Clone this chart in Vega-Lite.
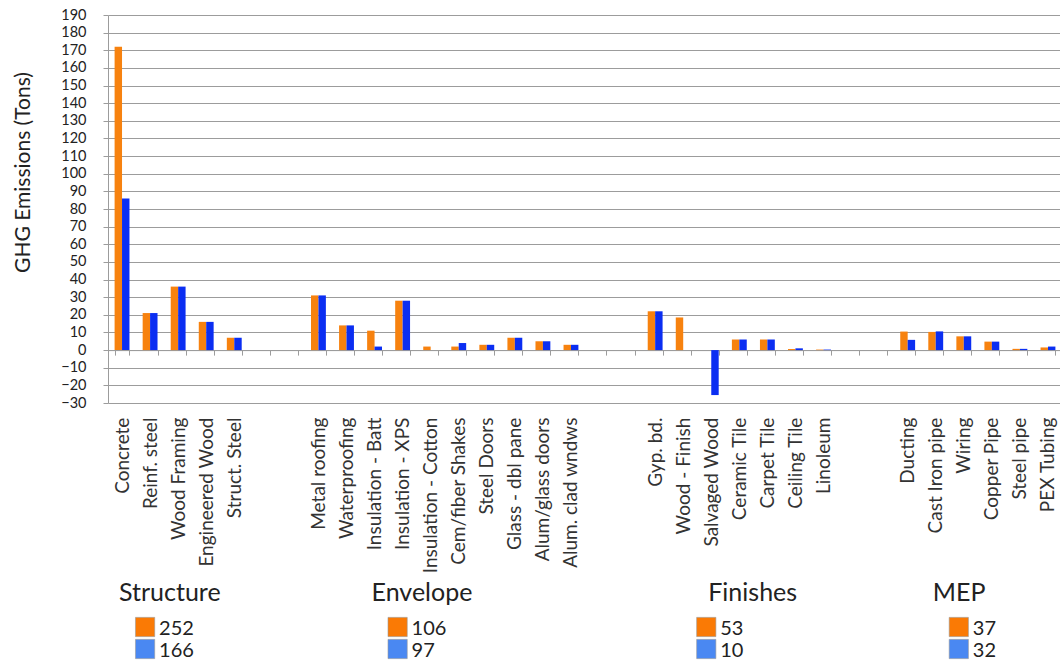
{
  "$schema": "https://vega.github.io/schema/vega-lite/v6.json",
  "padding": {"left": 12, "top": 7, "right": 0, "bottom": 0},
  "autosize": {"type": "pad"},
  "bounds": "flush",
  "spacing": 213,
  "config": {
    "font": "Lato",
    "view": {"stroke": null},
    "axis": {"labelFont": "Lato", "titleFont": "Lato"},
    "text": {"font": "Lato"}
  },
  "datasets": {
    "bars": [
      {"material": "Concrete", "scenario": "Scenario 1", "tons": 172},
      {"material": "Concrete", "scenario": "Scenario 2", "tons": 86},
      {"material": "Reinf. steel", "scenario": "Scenario 1", "tons": 21},
      {"material": "Reinf. steel", "scenario": "Scenario 2", "tons": 21},
      {"material": "Wood Framing", "scenario": "Scenario 1", "tons": 36},
      {"material": "Wood Framing", "scenario": "Scenario 2", "tons": 36},
      {"material": "Engineered Wood", "scenario": "Scenario 1", "tons": 16},
      {"material": "Engineered Wood", "scenario": "Scenario 2", "tons": 16},
      {"material": "Struct. Steel", "scenario": "Scenario 1", "tons": 7},
      {"material": "Struct. Steel", "scenario": "Scenario 2", "tons": 7},
      {"material": "Metal roofing", "scenario": "Scenario 1", "tons": 31},
      {"material": "Metal roofing", "scenario": "Scenario 2", "tons": 31},
      {"material": "Waterproofing", "scenario": "Scenario 1", "tons": 14},
      {"material": "Waterproofing", "scenario": "Scenario 2", "tons": 14},
      {"material": "Insulation - Batt", "scenario": "Scenario 1", "tons": 11},
      {"material": "Insulation - Batt", "scenario": "Scenario 2", "tons": 2},
      {"material": "Insulation - XPS", "scenario": "Scenario 1", "tons": 28},
      {"material": "Insulation - XPS", "scenario": "Scenario 2", "tons": 28},
      {"material": "Insulation - Cotton", "scenario": "Scenario 1", "tons": 2},
      {"material": "Insulation - Cotton", "scenario": "Scenario 2", "tons": 0},
      {"material": "Cem/fiber Shakes", "scenario": "Scenario 1", "tons": 2},
      {"material": "Cem/fiber Shakes", "scenario": "Scenario 2", "tons": 4},
      {"material": "Steel Doors", "scenario": "Scenario 1", "tons": 3},
      {"material": "Steel Doors", "scenario": "Scenario 2", "tons": 3},
      {"material": "Glass - dbl pane", "scenario": "Scenario 1", "tons": 7},
      {"material": "Glass - dbl pane", "scenario": "Scenario 2", "tons": 7},
      {"material": "Alum/glass doors", "scenario": "Scenario 1", "tons": 5},
      {"material": "Alum/glass doors", "scenario": "Scenario 2", "tons": 5},
      {"material": "Alum. clad wndws", "scenario": "Scenario 1", "tons": 3},
      {"material": "Alum. clad wndws", "scenario": "Scenario 2", "tons": 3},
      {"material": "Gyp. bd.", "scenario": "Scenario 1", "tons": 22},
      {"material": "Gyp. bd.", "scenario": "Scenario 2", "tons": 22},
      {"material": "Wood - Finish", "scenario": "Scenario 1", "tons": 18.5},
      {"material": "Wood - Finish", "scenario": "Scenario 2", "tons": 0},
      {"material": "Salvaged Wood", "scenario": "Scenario 1", "tons": 0},
      {"material": "Salvaged Wood", "scenario": "Scenario 2", "tons": -25.5},
      {"material": "Ceramic Tile", "scenario": "Scenario 1", "tons": 6},
      {"material": "Ceramic Tile", "scenario": "Scenario 2", "tons": 6},
      {"material": "Carpet Tile", "scenario": "Scenario 1", "tons": 6},
      {"material": "Carpet Tile", "scenario": "Scenario 2", "tons": 6},
      {"material": "Ceiling Tile", "scenario": "Scenario 1", "tons": 0.6},
      {"material": "Ceiling Tile", "scenario": "Scenario 2", "tons": 1},
      {"material": "Linoleum", "scenario": "Scenario 1", "tons": 0.3},
      {"material": "Linoleum", "scenario": "Scenario 2", "tons": 0.3},
      {"material": "Ducting", "scenario": "Scenario 1", "tons": 10.5},
      {"material": "Ducting", "scenario": "Scenario 2", "tons": 5.8},
      {"material": "Cast Iron pipe", "scenario": "Scenario 1", "tons": 10.3},
      {"material": "Cast Iron pipe", "scenario": "Scenario 2", "tons": 10.6},
      {"material": "Wiring", "scenario": "Scenario 1", "tons": 7.8},
      {"material": "Wiring", "scenario": "Scenario 2", "tons": 7.8},
      {"material": "Copper Pipe", "scenario": "Scenario 1", "tons": 4.8},
      {"material": "Copper Pipe", "scenario": "Scenario 2", "tons": 4.8},
      {"material": "Steel pipe", "scenario": "Scenario 1", "tons": 0.7},
      {"material": "Steel pipe", "scenario": "Scenario 2", "tons": 0.7},
      {"material": "PEX Tubing", "scenario": "Scenario 1", "tons": 1.5},
      {"material": "PEX Tubing", "scenario": "Scenario 2", "tons": 2}
    ],
    "totals": [
      {"group": "Structure", "scenario": "Scenario 1", "total": 252, "titleAt": "Concrete", "keyAt": "Reinf. steel"},
      {"group": "Structure", "scenario": "Scenario 2", "total": 166, "titleAt": "Concrete", "keyAt": "Reinf. steel"},
      {"group": "Envelope", "scenario": "Scenario 1", "total": 106, "titleAt": "Insulation - Batt", "keyAt": "Insulation - XPS"},
      {"group": "Envelope", "scenario": "Scenario 2", "total": 97, "titleAt": "Insulation - Batt", "keyAt": "Insulation - XPS"},
      {"group": "Finishes", "scenario": "Scenario 1", "total": 53, "titleAt": "Salvaged Wood", "keyAt": "Salvaged Wood"},
      {"group": "Finishes", "scenario": "Scenario 2", "total": 10, "titleAt": "Salvaged Wood", "keyAt": "Salvaged Wood"},
      {"group": "MEP", "scenario": "Scenario 1", "total": 37, "titleAt": "Cast Iron pipe", "keyAt": "Wiring"},
      {"group": "MEP", "scenario": "Scenario 2", "total": 32, "titleAt": "Cast Iron pipe", "keyAt": "Wiring"}
    ]
  },
  "resolve": {"scale": {"x": "independent", "y": "independent", "color": "independent"}},
  "vconcat": [
    {
      "width": 954,
      "height": 388,
      "data": {"name": "bars"},
      "mark": {"type": "bar"},
      "encoding": {
        "x": {
          "field": "material",
          "type": "nominal",
          "sort": null,
          "scale": {
            "type": "band",
            "paddingInner": 0.47,
            "paddingOuter": 0.235,
            "domain": ["Concrete", "Reinf. steel", "Wood Framing", "Engineered Wood", "Struct. Steel", "gap1", "gap2", "Metal roofing", "Waterproofing", "Insulation - Batt", "Insulation - XPS", "Insulation - Cotton", "Cem/fiber Shakes", "Steel Doors", "Glass - dbl pane", "Alum/glass doors", "Alum. clad wndws", "gap3", "gap4", "Gyp. bd.", "Wood - Finish", "Salvaged Wood", "Ceramic Tile", "Carpet Tile", "Ceiling Tile", "Linoleum", "gap5", "gap6", "Ducting", "Cast Iron pipe", "Wiring", "Copper Pipe", "Steel pipe", "PEX Tubing"]
          },
          "axis": {
            "orient": "bottom",
            "offset": -52.9,
            "title": null,
            "labelAngle": -90,
            "labelFontSize": 19,
            "labelColor": "#333333",
            "labelPadding": 62,
            "labelOverlap": false,
            "labelBound": false,
            "labelExpr": "indexof(datum.label, 'gap') === 0 ? '' : datum.label",
            "tickBand": "extent",
            "tickSize": 5,
            "tickColor": "#9c9c9c",
            "domainColor": "#9c9c9c",
            "grid": false
          }
        },
        "xOffset": {"field": "scenario", "type": "nominal", "sort": ["Scenario 1", "Scenario 2"], "scale": {"paddingInner": 0, "paddingOuter": 0}},
        "y": {
          "field": "tons",
          "type": "quantitative",
          "scale": {"domain": [-30, 190], "nice": false, "zero": false},
          "axis": {
            "values": [-30, -20, -10, 0, 10, 20, 30, 40, 50, 60, 70, 80, 90, 100, 110, 120, 130, 140, 150, 160, 170, 180, 190],
            "grid": true,
            "gridColor": "#9c9c9c",
            "gridWidth": 1,
            "domainColor": "#9c9c9c",
            "tickColor": "#9c9c9c",
            "tickSize": 5,
            "labelFontSize": 14.5,
            "labelColor": "#222222",
            "labelPadding": 17,
            "labelFlush": false,
            "labelOverlap": false,
            "title": "GHG Emissions (Tons)",
            "titleFontSize": 21,
            "titleFontWeight": "normal",
            "titleColor": "#222222",
            "titlePadding": 27.5,
            "titleY": 157
          }
        },
        "color": {
          "field": "scenario",
          "type": "nominal",
          "scale": {"domain": ["Scenario 1", "Scenario 2"], "range": ["#F7820F", "#0B2EF2"]},
          "legend": null
        }
      }
    },
    {
      "width": 954,
      "height": 44,
      "data": {"name": "totals"},
      "layer": [
        {
          "mark": {"type": "square", "size": 370, "filled": true, "opacity": 1, "xOffset": -5, "stroke": "#9a9a9a", "strokeWidth": 0.6},
          "encoding": {
            "x": {"field": "keyAt", "type": "nominal", "sort": null, "scale": {"type": "band", "paddingInner": 0.47, "paddingOuter": 0.235, "domain": ["Concrete", "Reinf. steel", "Wood Framing", "Engineered Wood", "Struct. Steel", "gap1", "gap2", "Metal roofing", "Waterproofing", "Insulation - Batt", "Insulation - XPS", "Insulation - Cotton", "Cem/fiber Shakes", "Steel Doors", "Glass - dbl pane", "Alum/glass doors", "Alum. clad wndws", "gap3", "gap4", "Gyp. bd.", "Wood - Finish", "Salvaged Wood", "Ceramic Tile", "Carpet Tile", "Ceiling Tile", "Linoleum", "gap5", "gap6", "Ducting", "Cast Iron pipe", "Wiring", "Copper Pipe", "Steel pipe", "PEX Tubing"]}, "axis": null},
            "y": {"field": "scenario", "type": "nominal", "scale": {"type": "band", "domain": ["Scenario 1", "Scenario 2"], "paddingInner": 0, "paddingOuter": 0}, "axis": null},
            "color": {"field": "scenario", "type": "nominal", "scale": {"domain": ["Scenario 1", "Scenario 2"], "range": ["#FA7A05", "#4A88F2"]}, "legend": null}
          }
        },
        {
          "mark": {"type": "text", "align": "left", "baseline": "middle", "dx": 9, "dy": 2, "fontSize": 20, "color": "#222222"},
          "encoding": {
            "x": {"field": "keyAt", "type": "nominal", "sort": null},
            "y": {"field": "scenario", "type": "nominal"},
            "text": {"field": "total", "type": "quantitative"}
          }
        },
        {
          "transform": [{"filter": "datum.scenario === 'Scenario 1'"}],
          "mark": {"type": "text", "align": "left", "baseline": "middle", "dx": -3, "dy": -34, "fontSize": 25, "color": "#222222"},
          "encoding": {
            "x": {"field": "titleAt", "type": "nominal", "sort": null},
            "y": {"datum": "Scenario 1", "type": "nominal"},
            "text": {"field": "group", "type": "nominal"}
          }
        }
      ]
    }
  ]
}
